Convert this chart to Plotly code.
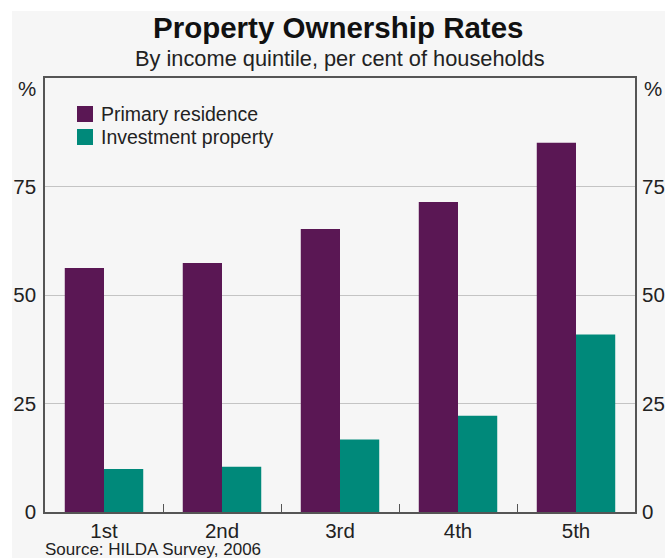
import plotly.graph_objects as go

# Property ownership by household income quintile (per cent of households)
quintiles = ["1st", "2nd", "3rd", "4th", "5th"]
primary_residence = [56.2, 57.4, 65.2, 71.4, 85.1]
investment_property = [9.9, 10.4, 16.7, 22.2, 40.9]
series_names = ["Primary residence", "Investment property"]
y_ticks = [0, 25, 50, 75]

PURPLE = "#5a1754"
TEAL = "#00897a"
BG = "#f6f6f6"
AXIS = "#555555"
GRID = "#c4c4c4"
FONT = "Liberation Sans, Arial, sans-serif"

W, H = 665, 558
L, R, T, B = 45, 30, 78, 46
pw, ph = W - L - R, H - T - B


def px_x(p):
    return (p - L) / pw


def px_y(p):
    return (H - B - p) / ph


fig = go.Figure()
fig.add_trace(go.Bar(x=quintiles, y=primary_residence, name=series_names[0],
                     marker=dict(color=PURPLE, line=dict(width=0))))
fig.add_trace(go.Bar(x=quintiles, y=investment_property, name=series_names[1],
                     marker=dict(color=TEAL, line=dict(width=0))))
# carrier for the right-hand value axis
fig.add_trace(go.Scatter(x=quintiles, y=[None] * len(quintiles), yaxis="y2",
                         showlegend=False, hoverinfo="skip"))

axis_font = dict(family=FONT, size=20.5, color="#222222")

# compact key in the upper-left corner of the plot
key_shapes, key_labels = [], []
for i, (name, colour) in enumerate(zip(series_names, [PURPLE, TEAL])):
    cy = 114 + 23 * i
    key_shapes.append(dict(type="rect", xref="paper", yref="paper",
                           x0=px_x(77), x1=px_x(93), y0=px_y(cy + 8), y1=px_y(cy - 8),
                           fillcolor=colour, line=dict(width=0)))
    key_labels.append(dict(text=name, xref="paper", yref="paper", x=px_x(99), y=px_y(cy),
                           xanchor="left", yanchor="middle", showarrow=False,
                           font=dict(family=FONT, size=19.5, color="#222222")))

fig.update_layout(
    width=W, height=H,
    margin=dict(l=L, r=R, t=T, b=B),
    paper_bgcolor="white",
    plot_bgcolor="rgba(0,0,0,0)",
    barmode="group", bargap=0.335, bargroupgap=0,
    font=dict(family=FONT, color="#222222"),
    showlegend=False,
    xaxis=dict(type="category", showgrid=False, showline=True, linecolor=AXIS, linewidth=1.5,
               mirror=True, ticks="inside", tickson="boundaries", ticklen=8, tickcolor=AXIS,
               tickwidth=1.2, tickfont=axis_font, zeroline=False, automargin=False),
    yaxis=dict(range=[0, 100], tickvals=y_ticks, showgrid=True, gridcolor=GRID, gridwidth=1,
               showline=True, linecolor=AXIS, linewidth=1.5, mirror=True, ticks="",
               tickfont=axis_font, zeroline=False, ticklabelstandoff=3, automargin=False),
    yaxis2=dict(range=[0, 100], tickvals=y_ticks, overlaying="y", side="right",
                showgrid=False, showline=False, ticks="", tickfont=axis_font,
                zeroline=False, ticklabelstandoff=6, automargin=False),
    shapes=[dict(type="rect", xref="paper", yref="paper", layer="below",
                 x0=px_x(12), x1=px_x(W + 5), y0=px_y(H + 5), y1=px_y(11),
                 fillcolor=BG, line=dict(width=0))] + key_shapes,
    annotations=[
        dict(text="<b>Property Ownership Rates</b>", xref="paper", yref="paper",
             x=px_x(338), y=px_y(28), xanchor="center", yanchor="middle", showarrow=False,
             font=dict(family=FONT, size=29.5, color="#111111")),
        dict(text="By income quintile, per cent of households", xref="paper", yref="paper",
             x=px_x(340), y=px_y(59), xanchor="center", yanchor="middle", showarrow=False,
             font=dict(family=FONT, size=21.8, color="#222222")),
        dict(text="%", xref="paper", yref="paper", x=px_x(38), y=px_y(89),
             xanchor="right", yanchor="middle", showarrow=False, font=axis_font),
        dict(text="%", xref="paper", yref="paper", x=px_x(642), y=px_y(89),
             xanchor="left", yanchor="middle", showarrow=False, font=axis_font),
        dict(text="Source: HILDA Survey, 2006", xref="paper", yref="paper",
             x=px_x(43), y=px_y(549), xanchor="left", yanchor="middle", showarrow=False,
             font=dict(family=FONT, size=17, color="#222222")),
    ] + key_labels,
)

fig.write_html("out.html")
